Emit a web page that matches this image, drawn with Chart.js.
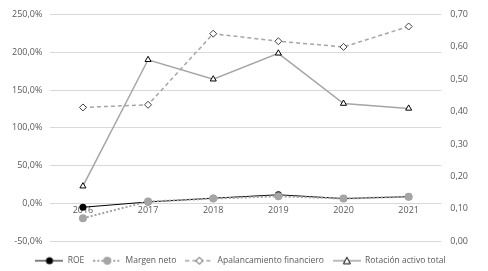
<!DOCTYPE html>
<html>
<head>
<meta charset="utf-8">
<script src="https://cdn.jsdelivr.net/npm/chart.js@4"></script>
<style>
  body { margin: 0; background: #fff; }
  #wrap { width: 488px; height: 271px; }
</style>
</head>
<body>
<div id="wrap"><canvas id="grafico"></canvas></div>
<script>
const years = ['2016', '2017', '2018', '2019', '2020', '2021'];
const roe = [-5, 2, 7, 11.5, 6.5, 9];
const margenNeto = [-19.5, 2.5, 6.5, 9.5, 6.5, 9];
const apalancamiento = [127, 130.5, 224.5, 214.5, 207, 234];
const rotacion = [0.17, 0.56, 0.50, 0.58, 0.425, 0.41];

const grey = '#a5a5a5';
const txt = '#595959';

// small canvas images so the legend shows line + marker like Excel
function legendIcon(color, dash, width, marker) {
    const c = document.createElement('canvas');
    c.width = 28; c.height = 10;
    const g = c.getContext('2d');
    g.strokeStyle = color;
    g.lineWidth = width;
    g.setLineDash(dash);
    g.beginPath(); g.moveTo(0, 5); g.lineTo(28, 5); g.stroke();
    g.setLineDash([]);
    marker(g);
    return c;
}
const icons = [
    legendIcon('#000', [], 1, g => { g.fillStyle = '#000'; g.beginPath(); g.arc(14, 5, 3.5, 0, Math.PI * 2); g.fill(); }),
    legendIcon(grey, [2, 2], 2, g => { g.fillStyle = grey; g.beginPath(); g.arc(14, 5, 4, 0, Math.PI * 2); g.fill(); }),
    legendIcon(grey, [4, 3], 1.5, g => {
        g.fillStyle = '#fff'; g.strokeStyle = '#404040'; g.lineWidth = 1;
        g.beginPath(); g.moveTo(14, 1.5); g.lineTo(17.5, 5); g.lineTo(14, 8.5); g.lineTo(10.5, 5); g.closePath(); g.fill(); g.stroke();
    }),
    legendIcon(grey, [], 1.5, g => {
        g.fillStyle = '#fff'; g.strokeStyle = '#000'; g.lineWidth = 1;
        g.beginPath(); g.moveTo(14, 1.5); g.lineTo(17.5, 8); g.lineTo(10.5, 8); g.closePath(); g.fill(); g.stroke();
    })
];

const ctx = document.getElementById('grafico').getContext('2d');
const grafico = new Chart(ctx, {
    type: 'line',
    data: {
        labels: years,
        datasets: [{
            label: 'ROE',
            data: roe,
            borderColor: '#000',
            backgroundColor: '#000',
            borderWidth: 1,
            pointRadius: 3.5,
            pointBorderWidth: 0,
            yAxisID: 'y',
            order: 3
        }, {
            label: 'Margen neto',
            data: margenNeto,
            borderColor: grey,
            backgroundColor: grey,
            borderWidth: 2,
            borderDash: [2, 2],
            pointRadius: 4,
            pointBorderWidth: 0,
            yAxisID: 'y',
            order: 2
        }, {
            label: 'Apalancamiento financiero',
            data: apalancamiento,
            borderColor: grey,
            borderWidth: 1.5,
            borderDash: [4, 3],
            pointStyle: 'rectRot',
            pointRadius: 3.5,
            pointBackgroundColor: '#fff',
            pointBorderColor: '#404040',
            pointBorderWidth: 1,
            yAxisID: 'y',
            order: 1
        }, {
            label: 'Rotación activo total',
            data: rotacion,
            borderColor: grey,
            borderWidth: 1.5,
            pointStyle: 'triangle',
            pointRadius: 3.5,
            pointBackgroundColor: '#fff',
            pointBorderColor: '#000',
            pointBorderWidth: 1,
            yAxisID: 'y1',
            order: 0
        }]
    },
    options: {
        responsive: true,
        maintainAspectRatio: false,
        animation: false,
        layout: { padding: { left: 4, right: 11, top: 7, bottom: -4 } },
        plugins: {
            legend: {
                position: 'bottom',
                // empty title just pushes the legend row down a bit
                title: { display: true, text: '', font: { size: 1 }, padding: { top: 5, bottom: 0 } },
                labels: {
                    color: txt,
                    font: { family: 'Open Sans', size: 8.5 },
                    usePointStyle: true,
                    pointStyleWidth: 28,
                    padding: 9,
                    sort: (a, b) => a.datasetIndex - b.datasetIndex,
                    generateLabels: chart => {
                        const items = Chart.defaults.plugins.legend.labels.generateLabels(chart);
                        items.forEach(it => { it.pointStyle = icons[it.datasetIndex]; });
                        return items;
                    }
                }
            },
            tooltip: { enabled: false }
        },
        scales: {
            x: {
                position: { y: 0 },
                offset: true,
                grid: { display: false, drawTicks: false },
                border: { display: false },
                ticks: { color: txt, font: { family: 'Open Sans', size: 9 }, padding: 2 }
            },
            y: {
                position: 'left',
                min: -50,
                max: 250,
                ticks: {
                    stepSize: 50,
                    color: txt,
                    font: { family: 'Open Sans', size: 9 },
                    padding: 8,
                    callback: v => v.toFixed(1).replace('.', ',') + '%'
                },
                grid: { color: '#d9d9d9', drawTicks: false },
                border: { display: false }
            },
            y1: {
                position: 'right',
                min: 0,
                max: 0.7,
                ticks: {
                    stepSize: 0.1,
                    color: txt,
                    font: { family: 'Open Sans', size: 9 },
                    padding: 9,
                    callback: v => v.toFixed(2).replace('.', ',')
                },
                grid: { display: false, drawTicks: false },
                border: { display: false }
            }
        }
    }
});
</script>
</body>
</html>
